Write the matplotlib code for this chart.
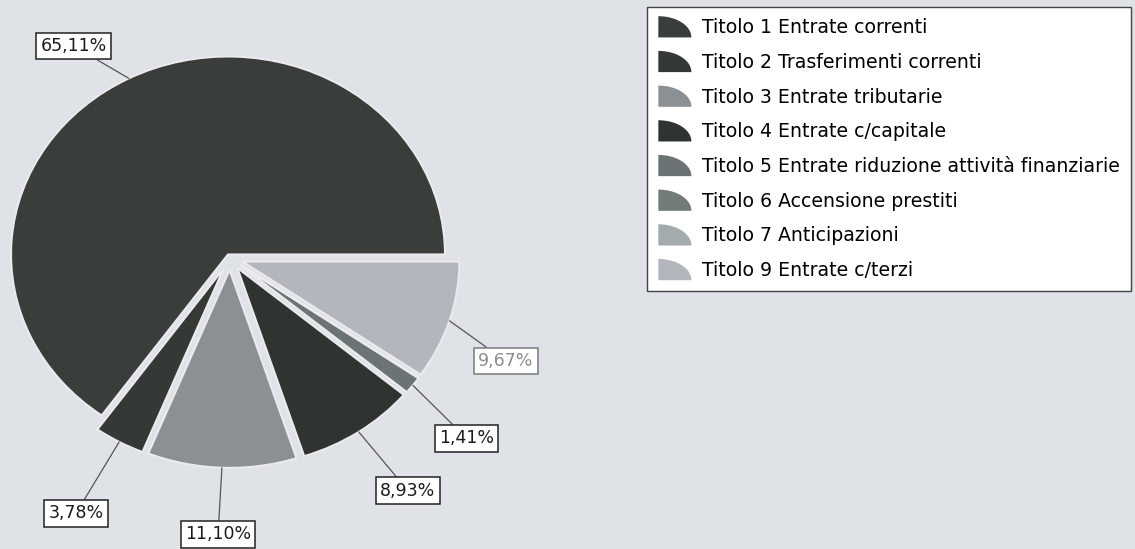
import numpy as np
import matplotlib
matplotlib.use("Agg")
import matplotlib.pyplot as plt
from matplotlib.patches import Polygon
from matplotlib.legend_handler import HandlerBase

# data
categorie = [
    "Titolo 1 Entrate correnti",
    "Titolo 2 Trasferimenti correnti",
    "Titolo 3 Entrate tributarie",
    "Titolo 4 Entrate c/capitale",
    "Titolo 5 Entrate riduzione attività finanziarie",
    "Titolo 6 Accensione prestiti",
    "Titolo 7 Anticipazioni",
    "Titolo 9 Entrate c/terzi",
]
percentuali = [65.11, 3.78, 11.10, 8.93, 1.41, 0.0, 0.0, 9.67]
colori = ["#3a3e3b", "#343935", "#8b9094", "#2f3430",
          "#6b7375", "#737b79", "#a4abae", "#b3b6bc"]
esplosione = [0.02, 0.06, 0.06, 0.06, 0.06, 0.06, 0.06, 0.06]

# label box positions (pie units), zero slices have no label
pos_etichette = [(-0.72, 1.07), (-0.71, -1.29), (-0.055, -1.395),
                 (0.82, -1.175), (1.09, -0.91), None, None, (1.27, -0.52)]

bg = "#dfe2e6"
fig = plt.figure(figsize=(11.35, 5.49), dpi=100, facecolor=bg)

# pie axes: centre at about (230, 258) px, radius ~217 px wide, ~200 px tall
W, H = 1135, 549
cx, cy = 230, 258
sx, sy = 217, 198
aw, ah = 600, 600
ax = fig.add_axes([(cx - aw / 2) / W, (H - cy - ah / 2) / H, aw / W, ah / H])
ax.set_facecolor("none")

wedges, _ = ax.pie(percentuali, colors=colori, startangle=0, counterclock=True,
                   explode=esplosione, radius=1,
                   wedgeprops=dict(linewidth=1.5, edgecolor="#e9ebee"))
ax.set_aspect("auto")
ax.set_xlim(-aw / 2 / sx, aw / 2 / sx)
ax.set_ylim(-ah / 2 / sy, ah / 2 / sy)
ax.axis("off")

# labels with leader lines
for i, (w, v) in enumerate(zip(wedges, percentuali)):
    if v <= 0:
        continue
    mid = np.deg2rad((w.theta1 + w.theta2) / 2)
    ex = esplosione[i]
    xy = ((1 + ex) * np.cos(mid), (1 + ex) * np.sin(mid))
    txt = f"{v:.2f}".replace(".", ",") + "%"
    grigio = i == len(percentuali) - 1
    col = "#8c8c8c" if grigio else "#1a1a1a"
    ax.annotate(txt, xy=xy, xytext=pos_etichette[i],
                ha="center", va="center", fontsize=12.5, color=col,
                family="DejaVu Sans",
                bbox=dict(boxstyle="square,pad=0.25", fc="white",
                          ec="#7a7a7a" if grigio else "#222222", lw=1.1),
                arrowprops=dict(arrowstyle="-", color="#555555", lw=0.9,
                                shrinkA=0, shrinkB=0))


class HandlerQuarto(HandlerBase):
    def create_artists(self, legend, orig_handle, xdescent, ydescent,
                       width, height, fontsize, trans):
        t = np.linspace(0, np.pi / 2, 30)
        x0, y0 = -xdescent, -ydescent - 2
        pts = [(x0, y0)] + [(x0 + width * np.cos(a), y0 + (height + 4) * np.sin(a)) for a in t]
        p = Polygon(pts, closed=True, fc=orig_handle.get_facecolor(), ec="none",
                    transform=trans)
        return [p]


leg = fig.legend(wedges, categorie, loc="upper left",
                 bbox_to_anchor=(647 / W, 1 - 7 / H),
                 frameon=True, fancybox=False, fontsize=13.6, framealpha=1,
                 handler_map={type(wedges[0]): HandlerQuarto()},
                 handlelength=1.75, handleheight=0.9, handletextpad=0.55,
                 labelspacing=0.83, borderpad=0.6, borderaxespad=0)
leg.get_frame().set_edgecolor("#444444")
leg.get_frame().set_linewidth(1.0)
leg.get_frame().set_facecolor("white")

fig.savefig("out.png", dpi=100, facecolor=bg)
